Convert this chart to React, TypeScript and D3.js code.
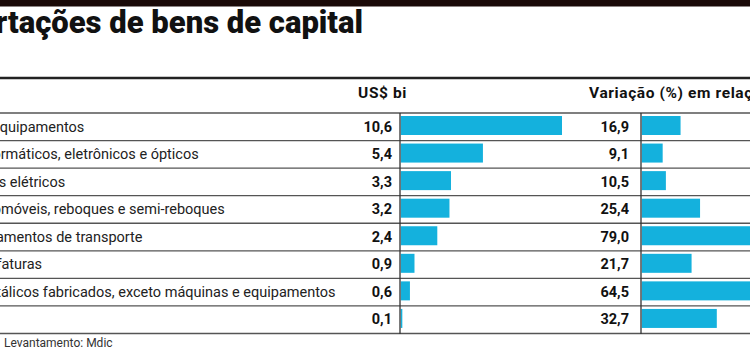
import React from "react";
import * as d3 from "d3";

const categories = [
  "Máquinas e equipamentos",
  "Produtos informáticos, eletrônicos e ópticos",
  "Equipamentos elétricos",
  "Veículos automóveis, reboques e semi-reboques",
  "Outros equipamentos de transporte",
  "Outras manufaturas",
  "Produtos metálicos fabricados, exceto máquinas e equipamentos",
  "Outros",
];
const valuesUSD = [10.6, 5.4, 3.3, 3.2, 2.4, 0.9, 0.6, 0.1];
const variation = [16.9, 9.1, 10.5, 25.4, 79.0, 21.7, 64.5, 32.7];

const title = "Importações de bens de capital";
const header1 = "US$ bi";
const header2 = "Variação (%) em relação a 2009";
const footer = "Levantamento: Mdic";

const W = 750;
const H = 350;
const BLUE = "#14b1dd";
const fmt = (v: number) => d3.format(".1f")(v).replace(".", ",");

export default function App() {
  const idx = categories.map((_, i) => i);
  const y = d3.scaleBand<number>().domain(idx).range([113, 333.5]).padding(0);
  const x1 = d3.scaleLinear().domain([0, 10.6]).range([400.8, 562]);
  const x2 = d3.scaleLinear().domain([0, 79]).range([641.8, 823]);
  const rowLines = [...idx.map((i) => y(i)!), 333.5];
  const labelX = -86.5;
  const sans = "Roboto, 'Open Sans', sans-serif";

  return (
    <svg
      width={W}
      height={H}
      viewBox={`0 0 ${W} ${H}`}
      style={{ position: "fixed", left: 0, top: 0, background: "#fff" }}
    >
      <rect x={0} y={0} width={W} height={H} fill="#fff" />
      <rect x={0} y={0} width={W} height={6.5} fill="#1a0a08" />
      <text
        x={363}
        y={33}
        textAnchor="end"
        fontFamily={sans}
        fontWeight={900}
        fontSize={31}
        fill="#111"
      >
        {title}
      </text>
      <line x1={0} x2={W} y1={78} y2={78} stroke="#222" strokeWidth={2.5} />
      <text x={407} y={98} textAnchor="end" fontFamily={sans} fontWeight={700} fontSize={15.5} letterSpacing={0.6} fill="#111">
        {header1}
      </text>
      <text x={589} y={98} textAnchor="start" fontFamily={sans} fontWeight={700} fontSize={15.5} letterSpacing={0.6} fill="#111">
        {header2}
      </text>
      {rowLines.map((ly, i) => (
        <line key={"rl" + i} x1={0} x2={W} y1={ly} y2={ly} stroke="#555" strokeWidth={1.3} />
      ))}
      {idx.map((i) => {
        const top = y(i)!;
        return (
          <g key={i}>
            <text x={labelX} y={top + 18.5} fontFamily={sans} fontSize={14.5} fill="#222">
              {categories[i]}
            </text>
            <text x={392} y={top + 18.5} textAnchor="end" fontFamily={sans} fontWeight={700} fontSize={14.5} fill="#111">
              {fmt(valuesUSD[i])}
            </text>
            <rect x={x1(0)} y={top + 3} width={Math.max(0, x1(valuesUSD[i]) - x1(0))} height={19} fill={BLUE} />
            <text x={629} y={top + 18.5} textAnchor="end" fontFamily={sans} fontWeight={700} fontSize={14.5} fill="#111">
              {fmt(variation[i])}
            </text>
            <rect x={x2(0)} y={top + 3} width={x2(variation[i]) - x2(0)} height={19} fill={BLUE} />
          </g>
        );
      })}
      <line x1={400} x2={400} y1={113} y2={334} stroke="#333" strokeWidth={1.3} />
      <line x1={641} x2={641} y1={113} y2={334} stroke="#333" strokeWidth={1.3} />
      <text x={4} y={347} fontFamily={sans} fontSize={12} fill="#333">
        {footer}
      </text>
    </svg>
  );
}
